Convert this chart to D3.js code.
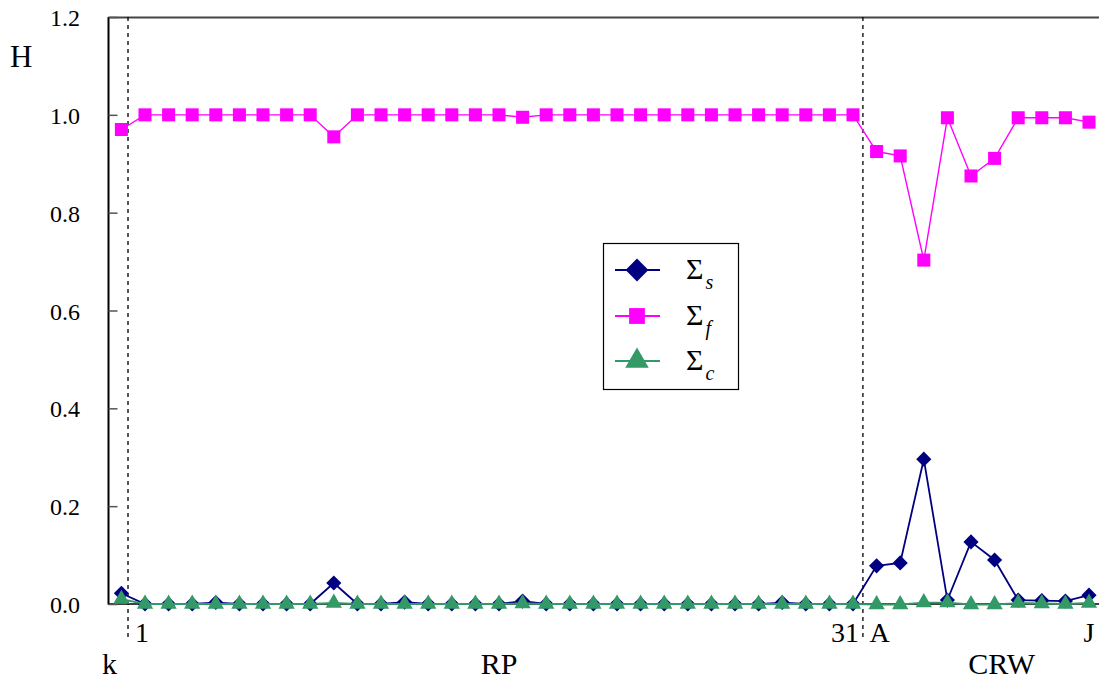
<!DOCTYPE html>
<html><head><meta charset="utf-8">
<script src="https://cdn.jsdelivr.net/npm/d3@7"></script>
<style>
html,body{margin:0;padding:0;background:#fff;overflow:hidden}
</style></head>
<body><svg id="c" width="1099" height="682"></svg>
<script>
// categories: k, 1..31, A..J
const categories = ["k"].concat(d3.range(1,32).map(String)).concat(["A","B","C","D","E","F","G","H","I","J"]);
const sigmaS = [0.022,
 0,0,0,0.003,0,0,0,0,0.043,0,0,0.004,0,0,0,0,0.006,0,0,0,0,0,0,0,0,0,0,0.003,0,0,0,
 0.078,0.084,0.296,0.008,0.127,0.090,0.008,0.007,0.006,0.018];
const sigmaF = [0.97,
 1,1,1,1,1,1,1,1,0.955,1,1,1,1,1,1,1,0.995,1,1,1,1,1,1,1,1,1,1,1,1,1,1,
 0.925,0.916,0.703,0.994,0.875,0.911,0.994,0.994,0.994,0.985];
const sigmaC = [0.01,
 0,0,0,0,0,0,0,0,0.002,0,0,0,0,0,0,0,0.001,0,0,0,0,0,0,0,0,0,0,0,0,0,0,
 -0.001,-0.001,0.003,0.003,-0.001,-0.001,0.002,0.001,0,0.002];
const yTicks = [0,0.2,0.4,0.6,0.8,1.0,1.2];
const xTickLabels = [["1",1],["31",31],["A",32],["J",41]];
const groupLabels = [["k",-0.5],["RP",16],["CRW",37.3]];
const separators = [0.28,31.42];
const seriesNames = [["\u03A3","s"],["\u03A3","f"],["\u03A3","c"]];

const FONT = "'Liberation Serif', 'DejaVu Serif', 'Times New Roman', Times, serif";
const svg = d3.select("#c");
const x = d3.scaleLinear().domain([0,41]).range([121.4,1089]);
const y = d3.scaleLinear().domain([0,1.2]).range([604,17]);
const left = 108.5, right = 1112;
function txt(g){ return g.append("text").style("font-family",FONT).attr("fill","#000"); }

// frame
svg.append("line").attr("x1",left).attr("x2",right).attr("y1",17.5).attr("y2",17.5).attr("stroke","#444").attr("stroke-width",1.8);
svg.append("line").attr("x1",left).attr("x2",right).attr("y1",604).attr("y2",604).attr("stroke","#000").attr("stroke-width",1.5);
svg.append("line").attr("x1",left).attr("x2",left).attr("y1",17).attr("y2",604.5).attr("stroke","#000").attr("stroke-width",2);

// y axis ticks & labels
const yAxis = d3.axisRight(y).tickValues(yTicks).tickSize(9).tickFormat("");
const yg = svg.append("g").attr("transform",`translate(${left},0)`).call(yAxis);
yg.select(".domain").remove();
yg.selectAll(".tick line").attr("stroke","#555").attr("stroke-width",1.5);
yTicks.forEach(d=>{
  txt(svg).attr("x",80).attr("y",y(d)+9).attr("text-anchor","end")
    .style("font-size","24px").text(d3.format(".1f")(d));
});
txt(svg).attr("x",10).attr("y",67).style("font-size","31px").text("H");

// separators
separators.forEach(s=>{
  svg.append("line").attr("x1",x(s)).attr("x2",x(s)).attr("y1",17).attr("y2",638)
    .attr("stroke","#000").attr("stroke-width",1.3).attr("stroke-dasharray","4,4");
});

// x labels
xTickLabels.forEach(([t,i])=>{
  let anchor="middle", dx=0;
  if(t==="31"){anchor="end"; dx=6;}
  if(t==="A"){anchor="start"; dx=-7;}
  if(t==="1"){dx=-3;}
  txt(svg).attr("x",x(i)+dx).attr("y",642).attr("text-anchor",anchor)
    .style("font-size","28px").text(t);
});
groupLabels.forEach(([t,i])=>{
  txt(svg).attr("x",x(i)).attr("y",674).attr("text-anchor","middle")
    .style("font-size","30px").text(t);
});

const colS="#000080", colF="#ff00ff", colC="#339966";
const line = d3.line().x((d,i)=>x(i)).y(d=>y(d));
function drawSeries(vals,col,sym,size,w,rot){
  svg.append("path").datum(vals).attr("d",line).attr("fill","none").attr("stroke",col).attr("stroke-width",w);
  svg.selectAll(null).data(vals).enter().append("path")
    .attr("transform",(d,i)=>`translate(${x(i)},${y(d)}) rotate(${rot})`)
    .attr("d",d3.symbol().type(sym).size(size)).attr("fill",col);
}
drawSeries(sigmaS,colS,d3.symbolSquare,115,1.8,45);
drawSeries(sigmaF,colF,d3.symbolSquare,170,1.4,0);
drawSeries(sigmaC,colC,d3.symbolTriangle,115,1.8,0);

// legend
const lg = svg.append("g");
lg.append("rect").attr("x",603.5).attr("y",243.5).attr("width",135).attr("height",146)
  .attr("fill","#fff").attr("stroke","#000").attr("stroke-width",1.2);
const legRows = [[colS,d3.symbolSquare,260,270,45],[colF,d3.symbolSquare,250,316,0],[colC,d3.symbolTriangle,240,361,0]];
legRows.forEach(([c,sym,sz,yy,rot],k)=>{
  lg.append("line").attr("x1",615).attr("x2",660).attr("y1",yy).attr("y2",yy).attr("stroke",c).attr("stroke-width",2);
  lg.append("path").attr("transform",`translate(637,${yy}) rotate(${rot})`).attr("d",d3.symbol().type(sym).size(sz)).attr("fill",c);
  const t = txt(lg).attr("x",686).attr("y",yy+9).style("font-size","30px");
  t.append("tspan").text(seriesNames[k][0]);
  t.append("tspan").attr("dy",10).style("font-size","20px").style("font-style","italic").attr("dx",2).text(seriesNames[k][1]);
});
</script></body></html>
